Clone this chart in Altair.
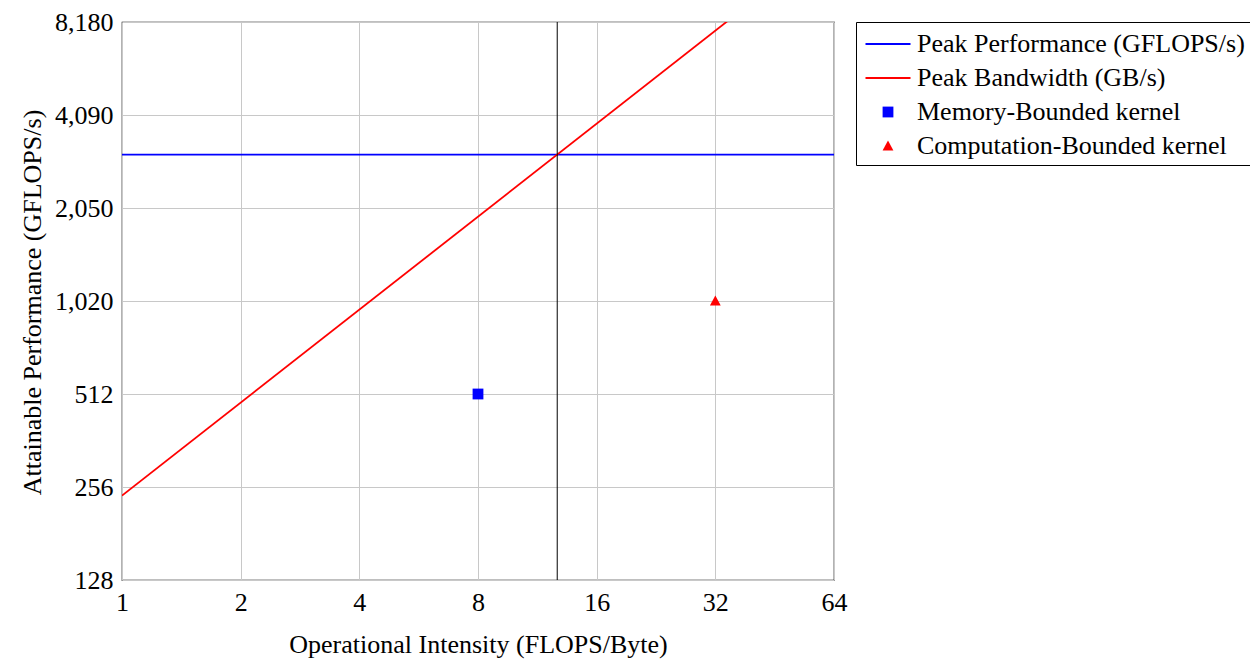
import altair as alt
import pandas as pd

# ---- data ----
x_ticks = [1, 2, 4, 8, 16, 32, 64]
y_ticks = [128, 256, 512, 1024, 2048, 4096, 8192]
y_tick_labels = ["128", "256", "512", "1,020", "2,050", "4,090", "8,180"]

peak_performance = 3050.0     # GFLOPS/s (horizontal roof)
peak_bandwidth = 240.0        # GB/s (slope of the memory roof)
line_x = [1, 64]

series_names = [
    "Peak Performance (GFLOPS/s)",
    "Peak Bandwidth (GB/s)",
    "Memory-Bounded kernel",
    "Computation-Bounded kernel",
]
series_colors = ["#0000ff", "#ff0000", "#0000ff", "#ff0000"]

kernel_names = ["Memory-Bounded kernel", "Computation-Bounded kernel"]
kernel_x = [8, 32]
kernel_y = [512, 1024]

FONT = "Liberation Serif"
FS = 26

perf_df = pd.DataFrame({"x": line_x, "y": [peak_performance] * len(line_x)})
bw_df = pd.DataFrame({"x": line_x, "y": [peak_bandwidth * v for v in line_x]})
ridge_df = pd.DataFrame({"x": [peak_performance / peak_bandwidth]})
kern_df = pd.DataFrame({"series": kernel_names, "x": kernel_x, "y": kernel_y})

label_expr = "[" + ",".join("'%s'" % s for s in y_tick_labels) + "][indexof([" + \
    ",".join(str(v) for v in y_ticks) + "], datum.value)]"

xscale = alt.Scale(type="log", base=2, domain=[1, 64], nice=False)
yscale = alt.Scale(type="log", base=2, domain=[128, 8192], nice=False)

xaxis = alt.Axis(values=x_ticks, format="d", title="Operational Intensity (FLOPS/Byte)",
                 titleX=356, titleY=64, titleBaseline="middle")
yaxis = alt.Axis(values=y_ticks, labelExpr=label_expr,
                 title="Attainable Performance (GFLOPS/s)",
                 titleX=-90, titleY=280, titleBaseline="middle")

X = alt.X("x:Q", scale=xscale, axis=xaxis)
Y = alt.Y("y:Q", scale=yscale, axis=yaxis)

perf_line = alt.Chart(perf_df).mark_line(color="#0000ff", strokeWidth=1.8, clip=True).encode(x=X, y=Y)
bw_line = alt.Chart(bw_df).mark_line(color="#ff0000", strokeWidth=1.8, clip=True).encode(x=X, y=Y)
ridge = alt.Chart(ridge_df).mark_rule(color="black", strokeWidth=1).encode(x=alt.X("x:Q", scale=xscale))

line_path = "M-1.5,-0.065L1.5,-0.065L1.5,0.065L-1.5,0.065Z"
square_path = "M-0.36,-0.36L0.36,-0.36L0.36,0.36L-0.36,0.36Z"
tri_path = "M0,-0.36L0.36,0.3L-0.36,0.3Z"

points = alt.Chart(kern_df).mark_point(filled=True, opacity=1, size=900).encode(
    x=X, y=Y,
    color=alt.Color("series:N", scale=alt.Scale(domain=series_names, range=series_colors),
                    legend=alt.Legend(title=None, orient="none", legendX=734, legendY=0,
                                      strokeColor="black", padding=6, symbolSize=900,
                                      symbolOffset=10,
                                      labelFont=FONT, labelFontSize=FS, labelColor="black",
                                      labelLimit=0, symbolOpacity=1, rowPadding=5,
                                      labelOffset=13)),
    shape=alt.Shape("series:N", scale=alt.Scale(domain=series_names,
                                                range=[line_path, line_path, square_path, tri_path]),
                    legend=None),
)

chart = alt.layer(perf_line, bw_line, ridge, points).properties(
    width=712, height=558,
    autosize=alt.AutoSizeParams(type="none"),
    padding={"left": 114, "top": 14, "right": 416, "bottom": 84},
).configure_view(stroke="black", strokeWidth=1.2).configure_axis(
    grid=True, gridColor="#c8c8c8", gridWidth=1, ticks=False, domain=False,
    labelFont=FONT, labelFontSize=FS, labelColor="black", labelPadding=9,
    titleFont=FONT, titleFontSize=FS, titleFontWeight="normal", titleColor="black",
    labelFlush=False,
)

chart.save("out.html", embed_options={"renderer": "svg", "actions": False})
